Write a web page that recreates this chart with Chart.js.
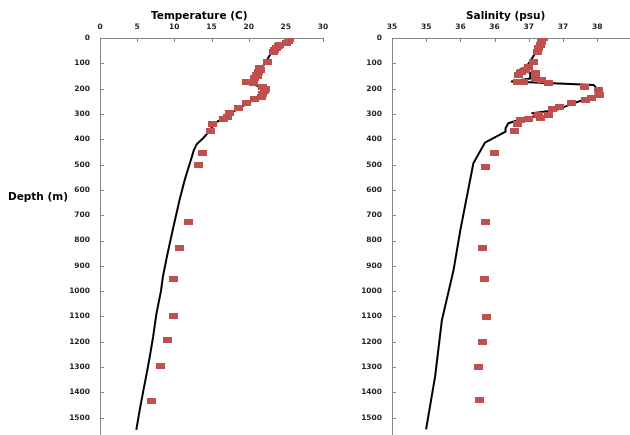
<!DOCTYPE html>
<html>
<head>
<meta charset="utf-8">
<script src="https://cdn.jsdelivr.net/npm/chart.js@4.4.1/dist/chart.umd.min.js"></script>
<style>
  html, body { margin:0; padding:0; background:#fff; }
  body { width:630px; height:435px; overflow:hidden; position:relative; }
  canvas { position:absolute; top:0; }
  .ttl { position:absolute; font-family:"DejaVu Sans", sans-serif; font-weight:bold; font-size:10.5px; color:#000; white-space:nowrap; line-height:12px; z-index:2; }
</style>
</head>
<body>
<canvas id="cT" width="340" height="446" style="left:0px"></canvas>
<canvas id="cS" width="290" height="446" style="left:340px"></canvas>
<div class="ttl" id="titleT" style="left:151px;top:9px;">Temperature (C)</div>
<div class="ttl" id="titleS" style="left:466px;top:9px;">Salinity (psu)</div>
<div class="ttl" id="depthLbl" style="left:8px;top:190px;">Depth (m)</div>
<script>
// ---------- DATA ----------
const depthTickLabels = ['0','100','200','300','400','500','600','700','800','900','1000','1100','1200','1300','1400','1500'];
const tempTickLabels = ['0','5','10','15','20','25','30'];
const salTickLabels = ['35','35','36','36','37','37','38'];

// Temperature profile (line)
const tempLineDepth = [0,15,30,45,60,80,100,118,135,150,165,172,182,195,210,228,242,258,278,298,315,335,355,375,395,420,445,475,560,640,750,850,943,1000,1088,1180,1259,1330,1398,1460,1545];
const tempLineValue = [25.5,25.0,24.2,23.6,23.0,22.6,22.3,21.6,21.2,20.9,20.3,19.8,20.4,21.8,22.0,21.7,20.9,19.8,18.7,17.5,16.7,15.5,15.0,14.5,13.9,13.0,12.6,12.3,11.4,10.7,9.85,9.1,8.46,8.2,7.6,7.15,6.7,6.25,5.8,5.4,4.9];

// Temperature samples (markers)
const tempPtDepth = [3,10,18,27,33,40,48,54,93,119,126,133,146,152,159,172,175,178,194,202,208,220,232,242,258,278,297,311,321,341,367,455,502,728,828,952,1097,1193,1295,1434];
const tempPtValue = [25.5,25.3,25.1,24.2,24.0,23.75,23.5,23.3,22.5,21.5,21.6,21.3,21.0,21.2,20.8,19.7,20.2,20.6,21.9,22.2,22.1,21.9,21.7,20.8,19.7,18.6,17.45,17.2,16.55,15.2,14.9,13.77,13.3,11.84,10.7,9.95,9.86,9.1,8.1,6.9];

// Salinity profile (line)
const salLineDepth = [0,50,100,115,130,136,160,172,186,200,215,230,245,258,284,297,303,324,337,357,370,413,495,758,917,1114,1338,1543];
const salLineValue = [36.72,36.62,36.5,36.45,36.33,36.52,36.52,36.25,37.45,37.5,37.52,37.45,37.3,37.15,36.91,36.55,36.68,36.35,36.2,36.16,36.16,35.86,35.69,35.5,35.4,35.23,35.13,35.0];

// Salinity samples (markers)
const salPtDepth = [1,14,27,40,54,93,113,126,133,139,146,159,166,172,172,179,192,205,225,238,245,258,271,280,304,304,317,321,324,340,367,455,508,728,828,953,1101,1202,1300,1430];
const salPtValue = [36.71,36.69,36.67,36.64,36.63,36.57,36.50,36.45,36.39,36.60,36.35,36.60,36.69,36.42,36.33,36.79,37.31,37.52,37.53,37.42,37.33,37.13,36.95,36.84,36.79,36.64,36.67,36.50,36.38,36.33,36.29,36.0,35.86,35.86,35.82,35.85,35.88,35.82,35.77,35.78];

// ---------- RENDER ----------
const markerImg = document.createElement('canvas');
markerImg.width = 9; markerImg.height = 6;
(function(){ const g = markerImg.getContext('2d'); g.fillStyle = '#C0504D'; g.fillRect(0,0,9,6); })();

const TICK_FONT = { family: '"DejaVu Sans", sans-serif', size: 7.5, weight: 'bold' };
const TICK_COLOR = '#1e1e28';
const AXIS_COLOR = '#868686';

function pts(xs, ds) { return xs.map((v, i) => ({ x: v, y: ds[i] })); }

const innerTicks = {
  id: 'innerTicks',
  afterDatasetsDraw(chart) {
    const ctx = chart.ctx, a = chart.chartArea;
    const xs = chart.scales.x, ys = chart.scales.y;
    ctx.save();
    ctx.strokeStyle = AXIS_COLOR; ctx.lineWidth = 1;
    ctx.beginPath();
    xs.ticks.forEach(t => {
      const px = Math.round(xs.getPixelForValue(t.value)) + 0.5;
      ctx.moveTo(px, Math.round(a.top)); ctx.lineTo(px, Math.round(a.top) + 4);
    });
    ys.ticks.forEach(t => {
      const py = Math.round(ys.getPixelForValue(t.value)) + 0.5;
      ctx.moveTo(Math.round(a.left), py); ctx.lineTo(Math.round(a.left) + 4, py);
    });
    ctx.stroke();
    ctx.restore();
  }
};

function makeChart(id, linePts, markPts, xOpts, yWidth, padRight) {
  return new Chart(document.getElementById(id), {
    type: 'scatter',
    data: {
      datasets: [
        { data: markPts, pointStyle: markerImg, pointRadius: 4.5, pointHoverRadius: 4.5, showLine: false, order: 0 },
        { data: linePts, showLine: true, borderColor: '#000', borderWidth: 2, borderJoinStyle: 'round', borderCapStyle: 'round', pointRadius: 0, tension: 0, order: 1 }
      ]
    },
    options: {
      responsive: false, animation: false, devicePixelRatio: 1,
      layout: { autoPadding: false, padding: { left: 0, top: 0, right: padRight, bottom: 3 } },
      plugins: { legend: { display: false }, tooltip: { enabled: false }, title: { display: false } },
      scales: {
        x: Object.assign({
          type: 'linear', position: 'top',
          grid: { display: true, drawOnChartArea: false, drawTicks: false },
          border: { display: true, color: AXIS_COLOR, width: 1 },
          afterFit(s) { s.height = 38; s.paddingLeft = 0; s.paddingRight = 0; }
        }, xOpts),
        y: {
          type: 'linear', reverse: true, min: 0, max: 1600,
          grid: { display: true, drawOnChartArea: false, drawTicks: false },
          border: { display: true, color: AXIS_COLOR, width: 1 },
          ticks: { stepSize: 100, autoSkip: false, includeBounds: false, padding: 10, font: TICK_FONT, color: TICK_COLOR,
                   callback: (v) => { const l = depthTickLabels[Math.round(v / 100)]; return l !== undefined ? l : ''; } },
          afterFit(s) { s.width = yWidth; s.paddingTop = 0; s.paddingBottom = 0; }
        }
      }
    },
    plugins: [innerTicks]
  });
}

makeChart('cT',
  pts(tempLineValue, tempLineDepth),
  pts(tempPtValue, tempPtDepth),
  { min: 0, max: 30, ticks: { stepSize: 5, autoSkip: false, includeBounds: false, padding: 6, font: TICK_FONT, color: TICK_COLOR,
      callback: (v) => { const l = tempTickLabels[Math.round(v / 5)]; return l !== undefined ? l : ''; } } },
  100, 17);

makeChart('cS',
  pts(salLineValue, salLineDepth),
  pts(salPtValue, salPtDepth),
  { min: 34.5, max: 37.98, ticks: { stepSize: 0.5, autoSkip: false, includeBounds: false, padding: 6, font: TICK_FONT, color: TICK_COLOR,
      callback: (v) => { const l = salTickLabels[Math.round((v - 34.5) / 0.5)]; return l !== undefined ? l : ''; } } },
  52, 0);
</script>
</body>
</html>
